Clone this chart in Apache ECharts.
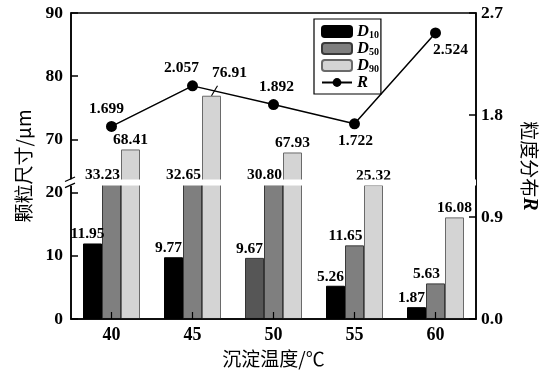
<!DOCTYPE html>
<html>
<head>
<meta charset="utf-8">
<script src="https://cdn.jsdelivr.net/npm/echarts@6/dist/echarts.min.js"></script>
<style>
html, body { margin: 0; padding: 0; background: #fff; }
#chart { width: 547px; height: 373px; }
</style>
</head>
<body>
<div id="chart"></div>
<script>
// Precipitation temperature (°C) on the x axis
const temperatures = ['40', '45', '50', '55', '60'];
// Particle size percentiles, μm
const d10 = [11.95, 9.77, 9.67, 5.26, 1.87];
const d50 = [33.23, 32.65, 30.80, 11.65, 5.63];
const d90 = [68.41, 76.91, 67.93, 25.32, 16.08];
// Size distribution span R
const spanR = [1.699, 2.057, 1.892, 1.722, 2.524];
// Tick values on the broken left axis
const leftTicks = [0, 10, 20, 70, 80, 90];
// Collapsed range of the left axis
const sizeBreak = { start: 21.1, end: 63.65 };

const SERIF = '"Liberation Serif", "Times New Roman", serif';
const CJK = '"Noto Sans CJK SC", "Liberation Serif", serif';
const BAR_W = 19;
// The D90 label at 45 °C is pulled up and right, with a leader line back to its bar
const CALLOUT_INDEX = 1;
const CALLOUT_SHIFT = [18, -14];

const chart = echarts.init(document.getElementById('chart'), null, { renderer: 'canvas' });

// Value labels ride on empty points at the bar tops so they stay above the break band
function valueLabels(name, values, slot, dx, callout) {
  const baseOffset = [slot * BAR_W + dx, 0];
  return {
    name: name + '-label',
    type: 'scatter',
    yAxisIndex: 0,
    z: 30,
    symbol: 'circle',
    symbolSize: 0,
    silent: true,
    itemStyle: { color: '#000' },
    data: values.map((v, i) => callout && i === CALLOUT_INDEX
      ? { value: v, label: { offset: [baseOffset[0] + CALLOUT_SHIFT[0], CALLOUT_SHIFT[1]] } }
      : v),
    label: {
      show: true,
      position: 'top',
      distance: 1,
      offset: baseOffset,
      color: '#000',
      opacity: 1,
      textBorderWidth: 0,
      fontFamily: SERIF,
      fontWeight: 'bold',
      fontSize: 15.5,
      formatter: p => p.value.toFixed(2)
    }
  };
}

const legendRich = {
  d: { fontFamily: SERIF, fontStyle: 'italic', fontWeight: 'bold', fontSize: 16.5, color: '#000' },
  s: { fontFamily: SERIF, fontWeight: 'bold', fontSize: 10, verticalAlign: 'bottom', color: '#000' }
};

const rLabelPos = [
  { position: 'top', offset: [-5, 0] },
  { position: 'top', offset: [-11, 0] },
  { position: 'top', offset: [3, 0] },
  { position: 'bottom', offset: [1, 0] },
  { position: 'bottom', offset: [15, 0] }
];

const option = {
  animation: false,
  backgroundColor: '#fff',
  grid: {
    left: 71, right: 68, top: 13, bottom: 54,
    show: true, borderColor: '#000', borderWidth: 1.5, backgroundColor: 'transparent'
  },
  legend: {
    orient: 'vertical',
    left: 314, top: 19,
    padding: [4, 2, 3, 7],
    borderColor: '#000', borderWidth: 1.2,
    itemWidth: 30, itemHeight: 11, itemGap: 0,
    data: ['D10', 'D50', 'D90', 'R'],
    formatter: name => name === 'R' ? '{d|R}' : '{d|D}{s|' + name.slice(1) + '}',
    textStyle: { rich: legendRich }
  },
  xAxis: {
    type: 'category',
    data: temperatures,
    z: 10,
    name: '沉淀温度/℃',
    nameLocation: 'middle',
    nameGap: 30,
    nameTextStyle: { fontFamily: CJK, fontSize: 19, color: '#000' },
    axisLine: { lineStyle: { color: '#000', width: 1.5 } },
    axisTick: { show: true, inside: true, alignWithLabel: true, length: 7, lineStyle: { color: '#000', width: 1.2 } },
    axisLabel: { fontFamily: SERIF, fontWeight: 'bold', fontSize: 18, color: '#000', margin: 7 }
  },
  yAxis: [
    {
      type: 'value',
      min: 0, max: 90,
      name: '颗粒尺寸/μm',
      nameLocation: 'middle',
      nameRotate: 90,
      nameGap: 38,
      nameTextStyle: { fontFamily: CJK, fontSize: 19, color: '#000' },
      breaks: [{ start: sizeBreak.start, end: sizeBreak.end, gap: '2%' }],
      breakArea: {
        show: true,
        zigzagAmplitude: 0,
        expandOnClick: false,
        itemStyle: { color: '#fff', borderWidth: 0, opacity: 1 }
      },
      axisLine: { show: true, lineStyle: { color: '#000', width: 1.5 } },
      axisTick: { show: true, inside: true, length: 7, customValues: leftTicks, lineStyle: { color: '#000', width: 1.5 } },
      axisLabel: {
        customValues: leftTicks,
        fontFamily: SERIF, fontWeight: 'bold', fontSize: 17.5, color: '#000', margin: 8
      },
      splitLine: { show: false }
    },
    {
      type: 'value',
      min: 0, max: 2.7, interval: 0.9,
      position: 'right',
      z: 20,
      name: '粒度分布{r|R}',
      nameLocation: 'middle',
      nameRotate: -90,
      nameGap: 43,
      nameTextStyle: {
        fontFamily: CJK, fontSize: 19, color: '#000',
        rich: { r: { fontFamily: SERIF, fontStyle: 'italic', fontWeight: 'bold', fontSize: 20, color: '#000' } }
      },
      axisLine: { show: true, lineStyle: { color: '#000', width: 1.5 } },
      axisTick: { show: true, inside: true, length: 7, lineStyle: { color: '#000', width: 1.5 } },
      axisLabel: {
        fontFamily: SERIF, fontWeight: 'bold', fontSize: 17.5, color: '#000', margin: 5,
        formatter: v => v.toFixed(1)
      },
      splitLine: { show: false }
    }
  ],
  series: [
    {
      name: 'D10', type: 'bar', yAxisIndex: 0,
      barWidth: BAR_W, barGap: '0%',
      itemStyle: { color: '#000', borderColor: '#000', borderWidth: 1 },
      data: d10.map((v, i) => i === 2 ? { value: v, itemStyle: { color: '#565656', borderColor: '#333' } } : v)
    },
    {
      name: 'D50', type: 'bar', yAxisIndex: 0,
      barWidth: BAR_W, barGap: '0%',
      itemStyle: { color: '#7f7f7f', borderColor: '#3a3a3a', borderWidth: 1 },
      data: d50
    },
    {
      name: 'D90', type: 'bar', yAxisIndex: 0,
      barWidth: BAR_W, barGap: '0%',
      itemStyle: { color: '#d4d4d4', borderColor: '#6a6a6a', borderWidth: 1 },
      data: d90
    },
    valueLabels('D10', d10, -1, -5, false),
    valueLabels('D50', d50, 0, -9, false),
    valueLabels('D90', d90, 1, 0, true),
    {
      name: 'R', type: 'line', yAxisIndex: 1,
      symbol: 'circle', symbolSize: 11,
      itemStyle: { color: '#000' },
      lineStyle: { color: '#000', width: 1.5 },
      z: 25,
      data: spanR.map((v, i) => ({
        value: v,
        label: Object.assign({ show: true }, rLabelPos[i])
      })),
      label: {
        show: true,
        distance: 4,
        color: '#000',
        fontFamily: SERIF, fontWeight: 'bold', fontSize: 15.5,
        formatter: p => p.value.toFixed(3)
      }
    }
  ]
};

chart.setOption(option);

// Break marks on the left axis and the callout leader line
function drawAnnotations() {
  const yLow = chart.convertToPixel({ yAxisIndex: 0 }, sizeBreak.start);
  const yHigh = chart.convertToPixel({ yAxisIndex: 0 }, sizeBreak.end);
  const gridRect = chart.getModel().getComponent('grid', 0).coordinateSystem.getRect();
  const ax = gridRect.x;
  const marks = [
    {
      type: 'rect', z: 99,
      shape: { x: ax - 2, y: yHigh, width: 4, height: yLow - yHigh },
      style: { fill: '#fff' }
    }
  ];
  [yHigh, yLow].forEach(y => marks.push({
    type: 'line',
    z: 100,
    shape: { x1: ax - 6, y1: y + 2, x2: ax + 4, y2: y - 2.5 },
    style: { stroke: '#000', lineWidth: 1.3 }
  }));
  const top = chart.convertToPixel({ xAxisIndex: 0, yAxisIndex: 0 },
    [CALLOUT_INDEX, d90[CALLOUT_INDEX]]);
  const bx = top[0] + BAR_W;
  marks.push({
    type: 'line', z: 100,
    shape: { x1: bx, y1: top[1], x2: bx + 6, y2: top[1] - 10 },
    style: { stroke: '#000', lineWidth: 1.1 }
  });
  chart.setOption({ graphic: marks });
}
drawAnnotations();
</script>
</body>
</html>
